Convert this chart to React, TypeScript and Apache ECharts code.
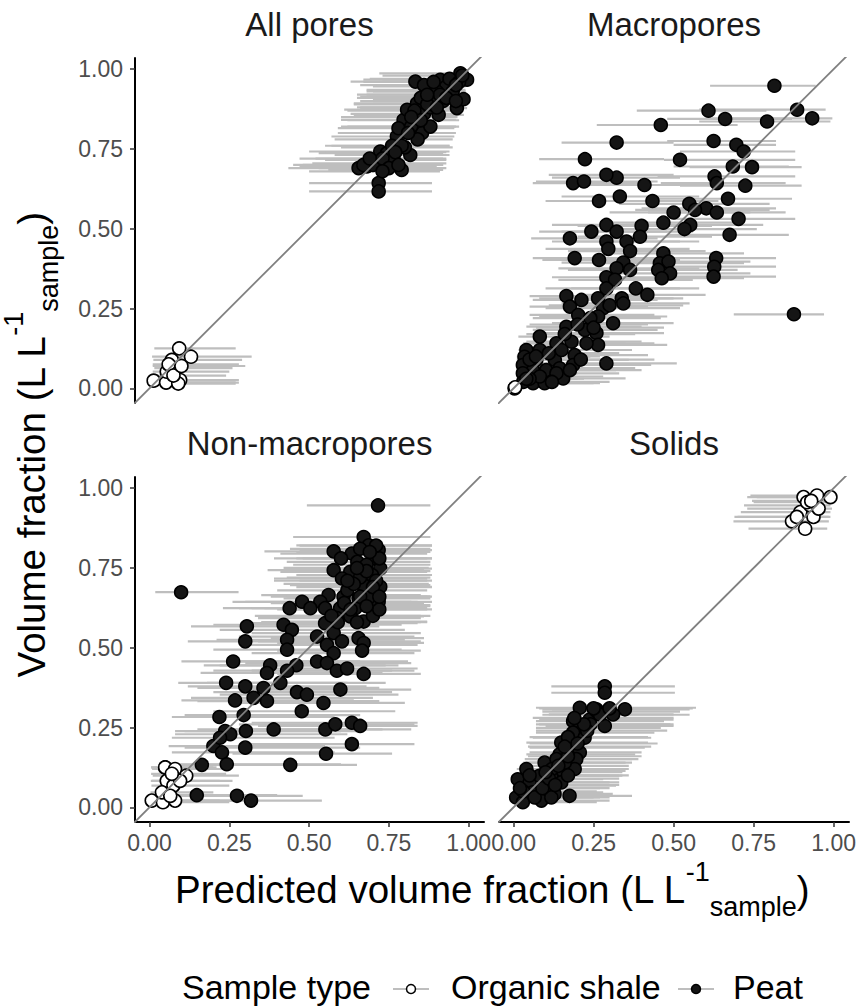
import React, { useEffect, useRef } from "react";
import * as echarts from "echarts";

const FONT = '"Liberation Sans", Arial, Helvetica, sans-serif';

// Facet titles and tick labels
const panelTitles = ["All pores", "Macropores", "Non-macropores", "Solids"];
const tickValues = [0, 0.25, 0.5, 0.75, 1];
const legendTitle = "Sample type";
const typeNames = ["Organic shale", "Peat"];

// Each row: [predicted x, observed y, interval low, interval high]
const allPoresShale = [
  [0.013, 0.024, 0.01, 0.27], [0.052, 0.018, 0.02, 0.28], [0.093, 0.125, 0.015, 0.27],
  [0.13, 0.099, 0.008, 0.32], [0.096, 0.026, 0.02, 0.28], [0.09, 0.015, 0.02, 0.27],
  [0.07, 0.089, 0.012, 0.29], [0.054, 0.052, 0.01, 0.25], [0.08, 0.063, 0.015, 0.26],
  [0.06, 0.075, 0.01, 0.28], [0.075, 0.04, 0.012, 0.24], [0.1, 0.07, 0.01, 0.3],
];
const allPoresPeat = [
  [0.718, 0.643, 0.5, 0.885], [0.718, 0.617, 0.5, 0.885], [0.655, 0.69, 0.435, 0.93],
  [0.681, 0.695, 0.47, 0.9], [0.7, 0.7, 0.48, 0.92], [0.723, 0.742, 0.5, 0.94],
  [0.744, 0.737, 0.53, 0.92], [0.754, 0.705, 0.51, 0.93], [0.765, 0.716, 0.55, 0.93],
  [0.79, 0.684, 0.56, 0.92], [0.817, 0.731, 0.58, 0.94], [0.8, 0.755, 0.6, 0.95],
  [0.775, 0.789, 0.57, 0.955], [0.796, 0.841, 0.6, 0.96], [0.78, 0.815, 0.59, 0.955],
  [0.807, 0.873, 0.61, 0.97], [0.838, 0.893, 0.64, 0.98], [0.854, 0.8, 0.62, 0.96],
  [0.833, 0.961, 0.63, 0.985], [0.869, 0.935, 0.68, 0.99], [0.89, 0.914, 0.66, 0.99],
  [0.906, 0.857, 0.64, 0.985], [0.911, 0.967, 0.67, 0.99], [0.93, 0.946, 0.7, 0.99],
  [0.963, 0.878, 0.66, 0.995], [0.974, 0.987, 0.72, 0.995], [0.995, 0.967, 0.73, 0.995],
  [0.984, 0.906, 0.7, 0.995], [0.86, 0.86, 0.63, 0.975], [0.88, 0.88, 0.65, 0.985],
  [0.9, 0.93, 0.68, 0.99], [0.95, 0.93, 0.7, 0.99], [0.92, 0.9, 0.66, 0.99],
  [0.82, 0.82, 0.6, 0.96], [0.84, 0.78, 0.58, 0.95], [0.86, 0.95, 0.66, 0.99],
  [0.94, 0.97, 0.69, 0.99], [0.76, 0.76, 0.55, 0.94], [0.73, 0.72, 0.52, 0.93],
  [0.67, 0.7, 0.45, 0.91], [0.97, 0.96, 0.72, 0.995], [0.88, 0.82, 0.62, 0.97],
  [0.83, 0.87, 0.62, 0.97], [0.85, 0.91, 0.65, 0.98], [0.87, 0.89, 0.64, 0.985],
  [0.81, 0.8, 0.59, 0.95], [0.79, 0.76, 0.57, 0.94], [0.77, 0.74, 0.55, 0.93],
  [0.75, 0.69, 0.53, 0.92], [0.73, 0.68, 0.5, 0.91], [0.69, 0.72, 0.47, 0.92],
  [0.91, 0.92, 0.68, 0.99], [0.93, 0.91, 0.69, 0.99], [0.96, 0.95, 0.71, 0.995],
  [0.89, 0.96, 0.67, 0.99], [0.85, 0.84, 0.62, 0.97], [0.82, 0.85, 0.6, 0.965],
  [0.78, 0.7, 0.56, 0.92], [0.96, 0.9, 0.7, 0.995], [0.9, 0.88, 0.66, 0.985],
  [0.87, 0.92, 0.65, 0.99], [0.98, 0.98, 0.73, 0.995],
];

const macroShale = [
  [0.003, 0.0, 0.0, 0.01], [0.005, 0.003, 0.0, 0.012],
];
const macroPeat = [
  [0.815, 0.948, 0.614, 0.944], [0.609, 0.87, 0.385, 0.79], [0.886, 0.873, 0.58, 0.975],
  [0.661, 0.844, 0.48, 0.87], [0.792, 0.836, 0.58, 0.99], [0.933, 0.846, 0.62, 0.996],
  [0.46, 0.825, 0.26, 0.7], [0.322, 0.77, 0.15, 0.5], [0.625, 0.775, 0.48, 0.82],
  [0.696, 0.763, 0.5, 0.82], [0.223, 0.718, 0.08, 0.47], [0.52, 0.716, 0.47, 0.88],
  [0.719, 0.742, 0.52, 0.88], [0.685, 0.695, 0.5, 0.86], [0.745, 0.693, 0.55, 0.9],
  [0.322, 0.66, 0.12, 0.52], [0.29, 0.669, 0.11, 0.5], [0.186, 0.643, 0.06, 0.42],
  [0.22, 0.648, 0.07, 0.45], [0.628, 0.664, 0.45, 0.88], [0.635, 0.643, 0.46, 0.85],
  [0.724, 0.635, 0.52, 0.9], [0.409, 0.637, 0.22, 0.62], [0.332, 0.601, 0.15, 0.58],
  [0.267, 0.587, 0.1, 0.52], [0.434, 0.587, 0.22, 0.64], [0.67, 0.594, 0.45, 0.87],
  [0.549, 0.578, 0.33, 0.8], [0.602, 0.564, 0.4, 0.82], [0.635, 0.551, 0.42, 0.85],
  [0.567, 0.559, 0.38, 0.8], [0.5, 0.551, 0.3, 0.74], [0.703, 0.531, 0.5, 0.88],
  [0.468, 0.519, 0.28, 0.7], [0.552, 0.512, 0.35, 0.78], [0.534, 0.499, 0.34, 0.76],
  [0.29, 0.512, 0.12, 0.55], [0.4, 0.509, 0.2, 0.62], [0.243, 0.491, 0.08, 0.48],
  [0.322, 0.491, 0.15, 0.56], [0.395, 0.475, 0.2, 0.62], [0.176, 0.47, 0.055, 0.45],
  [0.675, 0.481, 0.48, 0.86], [0.29, 0.46, 0.12, 0.52], [0.353, 0.46, 0.16, 0.58],
  [0.296, 0.437, 0.1, 0.55], [0.364, 0.43, 0.17, 0.6], [0.468, 0.423, 0.28, 0.72],
  [0.191, 0.408, 0.06, 0.45], [0.267, 0.402, 0.09, 0.52], [0.633, 0.408, 0.44, 0.82],
  [0.457, 0.392, 0.26, 0.72], [0.484, 0.397, 0.29, 0.74], [0.343, 0.394, 0.15, 0.6],
  [0.322, 0.376, 0.14, 0.58], [0.452, 0.371, 0.26, 0.7], [0.489, 0.36, 0.3, 0.74],
  [0.627, 0.381, 0.44, 0.82], [0.625, 0.35, 0.45, 0.82], [0.29, 0.348, 0.12, 0.55],
  [0.463, 0.345, 0.27, 0.72], [0.364, 0.371, 0.17, 0.6], [0.317, 0.34, 0.14, 0.56],
  [0.29, 0.313, 0.1, 0.52], [0.382, 0.313, 0.18, 0.58], [0.418, 0.293, 0.22, 0.6],
  [0.165, 0.289, 0.05, 0.4], [0.212, 0.277, 0.06, 0.45], [0.264, 0.282, 0.08, 0.5],
  [0.338, 0.282, 0.14, 0.53], [0.343, 0.266, 0.15, 0.55], [0.176, 0.256, 0.05, 0.42],
  [0.28, 0.251, 0.1, 0.52], [0.202, 0.23, 0.05, 0.44], [0.876, 0.232, 0.688, 0.97],
  [0.264, 0.225, 0.08, 0.48], [0.165, 0.193, 0.04, 0.4], [0.223, 0.183, 0.06, 0.45],
  [0.311, 0.204, 0.12, 0.5], [0.259, 0.173, 0.08, 0.47], [0.082, 0.162, 0.015, 0.3],
  [0.134, 0.141, 0.03, 0.35], [0.181, 0.146, 0.04, 0.4], [0.264, 0.136, 0.08, 0.48],
  [0.228, 0.141, 0.06, 0.44], [0.04, 0.12, 0.015, 0.25], [0.082, 0.12, 0.02, 0.3],
  [0.034, 0.099, 0.01, 0.24], [0.071, 0.089, 0.02, 0.3], [0.129, 0.089, 0.03, 0.36],
  [0.191, 0.104, 0.05, 0.42], [0.29, 0.078, 0.09, 0.51], [0.029, 0.073, 0.01, 0.22],
  [0.061, 0.057, 0.015, 0.28], [0.102, 0.057, 0.02, 0.32], [0.144, 0.063, 0.03, 0.38],
  [0.186, 0.073, 0.04, 0.43], [0.029, 0.047, 0.01, 0.2], [0.061, 0.016, 0.02, 0.25],
  [0.097, 0.016, 0.02, 0.27], [0.155, 0.031, 0.03, 0.35], [0.082, 0.037, 0.02, 0.28],
  [0.176, 0.057, 0.04, 0.4], [0.134, 0.047, 0.03, 0.33], [0.05, 0.03, 0.01, 0.22],
  [0.03, 0.02, 0.01, 0.18], [0.05, 0.09, 0.01, 0.23], [0.11, 0.11, 0.025, 0.33],
  [0.16, 0.17, 0.04, 0.38], [0.2, 0.2, 0.05, 0.42], [0.24, 0.22, 0.06, 0.46],
  [0.12, 0.02, 0.025, 0.3], [0.04, 0.03, 0.01, 0.2], [0.21, 0.09, 0.05, 0.44],
  [0.07, 0.1, 0.015, 0.27], [0.15, 0.12, 0.035, 0.37], [0.25, 0.19, 0.07, 0.47],
  [0.3, 0.26, 0.11, 0.53],
];

const nonMacroShale = [
  [0.007, 0.021, 0.002, 0.22], [0.042, 0.016, 0.005, 0.25], [0.08, 0.021, 0.005, 0.26],
  [0.049, 0.125, 0.005, 0.2], [0.08, 0.12, 0.008, 0.24], [0.115, 0.099, 0.01, 0.28],
  [0.054, 0.083, 0.004, 0.22], [0.075, 0.068, 0.006, 0.25], [0.039, 0.047, 0.003, 0.2],
  [0.065, 0.036, 0.005, 0.23], [0.096, 0.083, 0.008, 0.26], [0.07, 0.105, 0.005, 0.24],
];
const nonMacroPeat = [
  [0.049, 0.125, 0.005, 0.21], [0.148, 0.038, 0.02, 0.4], [0.274, 0.036, 0.05, 0.48],
  [0.318, 0.021, 0.1, 0.54], [0.164, 0.133, 0.03, 0.42], [0.099, 0.674, 0.018, 0.279],
  [0.716, 0.946, 0.493, 0.88], [0.671, 0.847, 0.45, 0.88], [0.577, 0.802, 0.36, 0.86],
  [0.687, 0.821, 0.46, 0.885], [0.718, 0.806, 0.47, 0.885], [0.634, 0.795, 0.41, 0.87],
  [0.6, 0.78, 0.39, 0.87], [0.651, 0.769, 0.43, 0.88], [0.723, 0.748, 0.48, 0.885],
  [0.577, 0.743, 0.37, 0.86], [0.629, 0.738, 0.41, 0.87], [0.697, 0.728, 0.46, 0.885],
  [0.603, 0.717, 0.39, 0.87], [0.671, 0.696, 0.44, 0.88], [0.723, 0.691, 0.47, 0.885],
  [0.561, 0.665, 0.35, 0.85], [0.608, 0.66, 0.38, 0.87], [0.655, 0.655, 0.42, 0.88],
  [0.718, 0.644, 0.46, 0.885], [0.478, 0.644, 0.26, 0.82], [0.535, 0.644, 0.3, 0.84],
  [0.439, 0.624, 0.23, 0.8], [0.504, 0.624, 0.28, 0.83], [0.55, 0.624, 0.32, 0.85],
  [0.597, 0.624, 0.36, 0.86], [0.645, 0.624, 0.4, 0.87], [0.692, 0.634, 0.44, 0.88],
  [0.629, 0.598, 0.38, 0.86], [0.671, 0.582, 0.42, 0.87], [0.55, 0.577, 0.3, 0.84],
  [0.587, 0.593, 0.34, 0.85], [0.305, 0.567, 0.13, 0.72], [0.42, 0.572, 0.2, 0.79],
  [0.446, 0.556, 0.22, 0.8], [0.3, 0.52, 0.12, 0.7], [0.525, 0.535, 0.28, 0.83],
  [0.577, 0.546, 0.32, 0.85], [0.603, 0.52, 0.34, 0.85], [0.431, 0.525, 0.21, 0.8],
  [0.655, 0.53, 0.38, 0.86], [0.556, 0.509, 0.3, 0.84], [0.671, 0.515, 0.4, 0.86],
  [0.431, 0.494, 0.2, 0.79], [0.666, 0.491, 0.4, 0.85], [0.577, 0.483, 0.32, 0.83],
  [0.262, 0.457, 0.1, 0.66], [0.525, 0.457, 0.27, 0.81], [0.556, 0.452, 0.3, 0.82],
  [0.378, 0.445, 0.17, 0.74], [0.46, 0.445, 0.22, 0.78], [0.587, 0.428, 0.32, 0.83],
  [0.619, 0.435, 0.35, 0.84], [0.368, 0.421, 0.16, 0.73], [0.431, 0.428, 0.2, 0.76],
  [0.671, 0.418, 0.4, 0.85], [0.24, 0.39, 0.09, 0.62], [0.3, 0.379, 0.12, 0.68],
  [0.357, 0.374, 0.15, 0.72], [0.41, 0.39, 0.18, 0.74], [0.326, 0.343, 0.13, 0.7],
  [0.268, 0.335, 0.1, 0.64], [0.368, 0.333, 0.15, 0.72], [0.462, 0.361, 0.2, 0.76],
  [0.493, 0.353, 0.22, 0.78], [0.598, 0.369, 0.3, 0.82], [0.545, 0.327, 0.27, 0.8],
  [0.295, 0.289, 0.11, 0.66], [0.477, 0.301, 0.2, 0.77], [0.219, 0.283, 0.07, 0.58],
  [0.237, 0.239, 0.08, 0.6], [0.253, 0.229, 0.08, 0.62], [0.302, 0.239, 0.11, 0.67],
  [0.389, 0.244, 0.15, 0.73], [0.551, 0.244, 0.25, 0.82], [0.582, 0.26, 0.28, 0.83],
  [0.634, 0.265, 0.32, 0.84], [0.66, 0.255, 0.34, 0.84], [0.2, 0.192, 0.06, 0.55],
  [0.227, 0.172, 0.07, 0.58], [0.3, 0.187, 0.11, 0.66], [0.634, 0.198, 0.31, 0.83],
  [0.553, 0.168, 0.26, 0.76], [0.242, 0.135, 0.08, 0.6], [0.441, 0.133, 0.18, 0.65],
  [0.221, 0.218, 0.07, 0.58], [0.7, 0.78, 0.46, 0.885], [0.68, 0.76, 0.45, 0.88],
  [0.71, 0.71, 0.47, 0.885], [0.66, 0.72, 0.43, 0.88], [0.62, 0.68, 0.4, 0.87],
  [0.64, 0.7, 0.42, 0.875], [0.69, 0.66, 0.45, 0.88], [0.72, 0.78, 0.48, 0.885],
  [0.66, 0.81, 0.44, 0.88], [0.61, 0.64, 0.38, 0.86], [0.65, 0.58, 0.4, 0.87],
  [0.7, 0.6, 0.44, 0.88], [0.72, 0.62, 0.46, 0.885], [0.68, 0.74, 0.45, 0.88],
  [0.7, 0.69, 0.46, 0.885], [0.66, 0.66, 0.43, 0.88], [0.63, 0.62, 0.4, 0.87],
  [0.59, 0.58, 0.35, 0.85], [0.71, 0.82, 0.47, 0.885], [0.69, 0.8, 0.46, 0.88],
  [0.65, 0.75, 0.42, 0.875], [0.62, 0.71, 0.39, 0.87], [0.72, 0.66, 0.47, 0.885],
  [0.57, 0.6, 0.33, 0.85], [0.68, 0.63, 0.44, 0.88],
];

const solidsShale = [
  [0.87, 0.896, 0.687, 0.985], [0.906, 0.972, 0.73, 0.99], [0.948, 0.977, 0.74, 0.995],
  [0.99, 0.972, 0.76, 0.995], [0.911, 0.873, 0.734, 0.98], [0.896, 0.925, 0.71, 0.99],
  [0.927, 0.946, 0.72, 0.99], [0.937, 0.91, 0.7, 0.99], [0.917, 0.956, 0.75, 0.99],
  [0.953, 0.936, 0.73, 0.995], [0.885, 0.91, 0.69, 0.985], [0.93, 0.96, 0.745, 0.99],
];
const solidsPeat = [
  [0.285, 0.379, 0.118, 0.504], [0.285, 0.359, 0.118, 0.504], [0.207, 0.312, 0.07, 0.57],
  [0.259, 0.307, 0.09, 0.55], [0.348, 0.307, 0.12, 0.52], [0.311, 0.291, 0.11, 0.5],
  [0.186, 0.27, 0.07, 0.47], [0.238, 0.275, 0.08, 0.5], [0.285, 0.255, 0.1, 0.5],
  [0.207, 0.249, 0.07, 0.46], [0.186, 0.234, 0.07, 0.44], [0.222, 0.218, 0.06, 0.43],
  [0.149, 0.203, 0.04, 0.42], [0.18, 0.187, 0.05, 0.41], [0.207, 0.172, 0.05, 0.4],
  [0.144, 0.166, 0.04, 0.38], [0.097, 0.14, 0.03, 0.35], [0.134, 0.151, 0.035, 0.37],
  [0.196, 0.151, 0.05, 0.39], [0.191, 0.12, 0.05, 0.36], [0.04, 0.12, 0.01, 0.3],
  [0.013, 0.088, 0.005, 0.28], [0.05, 0.078, 0.012, 0.3], [0.081, 0.099, 0.02, 0.33],
  [0.118, 0.099, 0.03, 0.34], [0.154, 0.114, 0.04, 0.35], [0.008, 0.031, 0.003, 0.25],
  [0.029, 0.016, 0.005, 0.26], [0.087, 0.021, 0.02, 0.3], [0.128, 0.042, 0.03, 0.31],
  [0.175, 0.036, 0.04, 0.37], [0.06, 0.047, 0.015, 0.28], [0.107, 0.068, 0.025, 0.32],
  [0.149, 0.078, 0.035, 0.33], [0.066, 0.031, 0.015, 0.27], [0.118, 0.031, 0.03, 0.3],
  [0.26, 0.3, 0.09, 0.52], [0.24, 0.26, 0.08, 0.49], [0.17, 0.22, 0.05, 0.42],
  [0.12, 0.12, 0.03, 0.34], [0.16, 0.14, 0.04, 0.37], [0.03, 0.05, 0.008, 0.26],
  [0.09, 0.06, 0.02, 0.3], [0.11, 0.09, 0.03, 0.33], [0.14, 0.13, 0.035, 0.36],
  [0.17, 0.16, 0.045, 0.4], [0.2, 0.2, 0.05, 0.45], [0.23, 0.24, 0.07, 0.48],
  [0.27, 0.29, 0.09, 0.55], [0.3, 0.31, 0.1, 0.56], [0.22, 0.26, 0.07, 0.5],
  [0.16, 0.19, 0.045, 0.43], [0.1, 0.11, 0.025, 0.34], [0.05, 0.1, 0.012, 0.3],
  [0.02, 0.06, 0.005, 0.27], [0.13, 0.07, 0.03, 0.33], [0.17, 0.1, 0.04, 0.36],
  [0.25, 0.31, 0.08, 0.54], [0.19, 0.28, 0.06, 0.5],
];

const panels = [
  { shale: allPoresShale, peat: allPoresPeat },
  { shale: macroShale, peat: macroPeat },
  { shale: nonMacroShale, peat: nonMacroPeat },
  { shale: solidsShale, peat: solidsPeat },
];

const X_MIN = -0.0455;
const X_MAX = 1.048;
const Y_MIN = -0.046;
const Y_MAX = 1.035;

const GRIDS = [
  { left: 135, top: 58, width: 349, height: 345 },
  { left: 499, top: 58, width: 350, height: 345 },
  { left: 135, top: 477, width: 349, height: 345 },
  { left: 499, top: 477, width: 350, height: 345 },
];

const BAR_COLOR = "#bebebe";

function buildOption(): any {
  const series: any[] = [];
  panels.forEach((p, i) => {
    series.push({
      type: "custom",
      xAxisIndex: i,
      yAxisIndex: i,
      z: 1,
      silent: true,
      data: [...p.shale, ...p.peat],
      encode: { x: 0, y: 1 },
      renderItem: (_params: any, api: any) => {
        const y = api.value(1);
        const a = api.coord([api.value(2), y]);
        const b = api.coord([api.value(3), y]);
        return {
          type: "line",
          shape: { x1: a[0], y1: a[1], x2: b[0], y2: b[1] },
          style: { stroke: BAR_COLOR, lineWidth: 2.2 },
        };
      },
    });
    series.push({
      type: "scatter",
      name: typeNames[1],
      xAxisIndex: i,
      yAxisIndex: i,
      z: 2,
      symbol: "circle",
      symbolSize: 13,
      data: p.peat.map((d) => [d[0], d[1]]),
      itemStyle: { color: "#151515", borderColor: "#000", borderWidth: 1.5, opacity: 1 },
    });
    series.push({
      type: "scatter",
      name: typeNames[0],
      xAxisIndex: i,
      yAxisIndex: i,
      z: 3,
      symbol: "circle",
      symbolSize: 13,
      data: p.shale.map((d) => [d[0], d[1]]),
      itemStyle: { color: "#ffffff", borderColor: "#000", borderWidth: 1.6, opacity: 1 },
    });
    series.push({
      type: "line",
      xAxisIndex: i,
      yAxisIndex: i,
      z: 4,
      silent: true,
      clip: true,
      symbol: "none",
      data: [[-0.2, -0.2], [1.2, 1.2]],
      lineStyle: { color: "#808080", width: 1.8 },
    });
  });

  const axisCommon = {
    type: "value",
    splitLine: { show: false },
    axisLine: { show: true, onZero: false, lineStyle: { color: "#000", width: 2 } },
    axisTick: { show: true, length: 5, customValues: tickValues, lineStyle: { color: "#333", width: 1.5 } },
  };

  const xAxis = GRIDS.map((_g, i) => ({
    ...axisCommon,
    gridIndex: i,
    min: X_MIN,
    max: X_MAX,
    show: i >= 2,
    axisLabel: {
      customValues: tickValues,
      formatter: (v: number) => v.toFixed(2),
      color: "#4d4d4d",
      fontSize: 23,
      fontFamily: FONT,
      margin: 9,
    },
  }));
  const yAxis = GRIDS.map((_g, i) => ({
    ...axisCommon,
    gridIndex: i,
    min: Y_MIN,
    max: Y_MAX,
    show: i % 2 === 0,
    axisLabel: {
      customValues: tickValues,
      formatter: (v: number) => v.toFixed(2),
      color: "#4d4d4d",
      fontSize: 23,
      fontFamily: FONT,
      margin: 12,
    },
  }));

  const richTitle = (size: number, sub: number) => ({
    m: { fontSize: size, fontFamily: FONT, fill: "#000", lineHeight: 62 },
    sup: { fontSize: sub, fontFamily: FONT, fill: "#000", lineHeight: 36, verticalAlign: "top" },
    sub: { fontSize: sub, fontFamily: FONT, fill: "#000", lineHeight: 30, verticalAlign: "bottom" },
  });
  const titleText = (lead: string) => `{m|${lead} (L L}{sup|-1}{sub|sample}{m|)}`;

  const graphic: any[] = [];
  GRIDS.forEach((g, i) => {
    graphic.push({
      type: "text",
      x: g.left + g.width / 2,
      y: g.top - 34,
      style: {
        text: panelTitles[i],
        font: `33px ${FONT}`,
        fill: "#1a1a1a",
        align: "center",
        verticalAlign: "middle",
      },
    });
  });
  graphic.push({
    type: "text",
    x: 492,
    y: 889,
    style: {
      text: titleText("Predicted volume fraction"),
      rich: richTitle(38.5, 27),
      align: "center",
      verticalAlign: "middle",
    },
  });
  graphic.push({
    type: "text",
    x: 31,
    y: 445,
    rotation: Math.PI / 2,
    style: {
      text: titleText("Volume fraction"),
      rich: richTitle(38.5, 27),
      align: "center",
      verticalAlign: "middle",
    },
  });
  // Legend
  const legendY = 987;
  const legendFont = `34px ${FONT}`;
  graphic.push({
    type: "text",
    x: 182,
    y: legendY,
    style: { text: legendTitle, font: legendFont, fill: "#000", align: "left", verticalAlign: "middle" },
  });
  const keys = [
    { x: 393, fill: "#ffffff", label: typeNames[0], tx: 451 },
    { x: 678, fill: "#151515", label: typeNames[1], tx: 733 },
  ];
  keys.forEach((k) => {
    graphic.push({
      type: "line",
      shape: { x1: k.x, y1: legendY + 2, x2: k.x + 36, y2: legendY + 2 },
      style: { stroke: BAR_COLOR, lineWidth: 2 },
    });
    graphic.push({
      type: "circle",
      shape: { cx: k.x + 18, cy: legendY + 2, r: 4.5 },
      style: { fill: k.fill, stroke: "#000", lineWidth: 1.5 },
    });
    graphic.push({
      type: "text",
      x: k.tx,
      y: legendY,
      style: { text: k.label, font: legendFont, fill: "#000", align: "left", verticalAlign: "middle" },
    });
  });

  return {
    animation: false,
    backgroundColor: "#ffffff",
    grid: GRIDS.map((g) => ({ ...g, containLabel: false })),
    xAxis,
    yAxis,
    series,
    graphic,
  };
}

export default function App() {
  const ref = useRef<HTMLDivElement>(null);
  useEffect(() => {
    if (!ref.current) return;
    const chart = echarts.init(ref.current, undefined, { renderer: "svg" });
    chart.setOption(buildOption());
    return () => chart.dispose();
  }, []);
  return (
    <div
      ref={ref}
      style={{ position: "fixed", left: 0, top: 0, width: 861, height: 1006, background: "#fff" }}
    />
  );
}
